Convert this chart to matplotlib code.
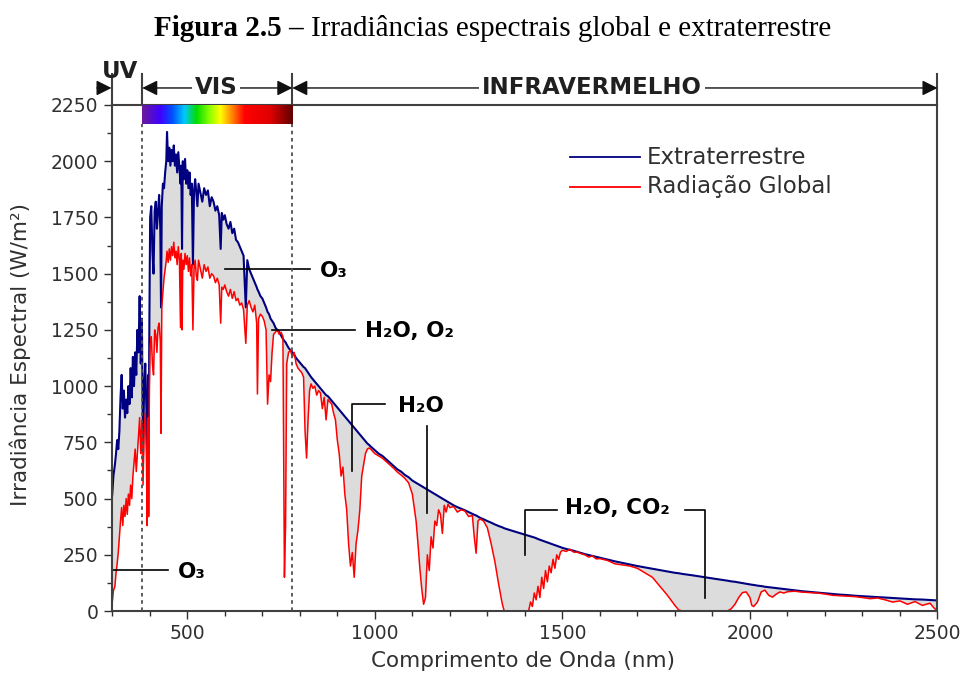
import numpy as np
import matplotlib
matplotlib.use('Agg')
import matplotlib.pyplot as plt
from matplotlib.colors import LinearSegmentedColormap
from matplotlib.ticker import MultipleLocator
from matplotlib.transforms import blended_transform_factory

plt.rcParams['font.family'] = ['DejaVu Sans']

# Spectral data: wavelength (nm), extraterrestrial and global irradiance
wavelength = [
    297, 300, 303, 307, 310, 313, 316, 319, 322, 325, 328, 331, 334, 337, 340, 343,
    346, 349, 352, 355, 358, 361, 364, 367, 370, 373, 376, 379, 382, 385, 388, 391,
    393, 396, 397, 399, 401, 404, 407, 410, 413, 416, 419, 422, 425, 428, 430, 432,
    435, 438, 441, 444, 446, 449, 452, 455, 458, 461, 464, 467, 470, 473, 476, 479,
    482, 484, 486, 488, 491, 494, 497, 500, 503, 506, 509, 512, 515, 518, 521, 524,
    527, 530, 535, 540, 545, 550, 555, 560, 565, 570, 575, 580, 585, 589, 592, 596,
    600, 605, 610, 615, 620, 625, 630, 635, 640, 645, 650, 656, 660, 665, 670, 675,
    680, 685, 687, 690, 695, 700, 705, 710, 714, 718, 722, 726, 730, 735, 740, 745,
    750, 755, 759, 762, 765, 770, 775, 780, 785, 790, 795, 800, 805, 810, 814, 818,
    822, 826, 830, 835, 840, 845, 850, 855, 860, 865, 870, 875, 880, 885, 890, 895,
    900, 905, 910, 915, 920, 925, 930, 935, 940, 945, 950, 955, 960, 965, 970, 975,
    980, 985, 990, 1000, 1010, 1020, 1030, 1040, 1050, 1060, 1070, 1080, 1090, 1100,
    1105, 1110, 1115, 1120, 1125, 1130, 1135, 1140, 1145, 1150, 1155, 1160, 1165,
    1170, 1175, 1180, 1185, 1190, 1195, 1200, 1210, 1220, 1230, 1240, 1250, 1260,
    1265, 1270, 1275, 1280, 1290, 1300, 1310, 1320, 1330, 1340, 1345, 1360, 1380,
    1400, 1410, 1415, 1420, 1425, 1430, 1435, 1440, 1445, 1450, 1455, 1460, 1465,
    1470, 1475, 1480, 1485, 1490, 1495, 1500, 1510, 1520, 1530, 1540, 1550, 1560,
    1570, 1580, 1590, 1600, 1620, 1640, 1660, 1680, 1700, 1720, 1740, 1760, 1780,
    1800, 1810, 1820, 1850, 1880, 1900, 1920, 1940, 1950, 1960, 1970, 1980, 1990,
    2000, 2005, 2010, 2020, 2030, 2040, 2050, 2060, 2070, 2080, 2090, 2100, 2120,
    2140, 2160, 2180, 2200, 2220, 2240, 2260, 2280, 2300, 2320, 2340, 2360, 2380,
    2400, 2420, 2440, 2460, 2480, 2490, 2500]

extraterrestre = [
    470, 520, 600, 650, 700, 760, 720, 800, 950, 1050, 900, 980, 860, 940, 880, 1000,
    920, 1080, 950, 1130, 1000, 1150, 1050, 1250, 1150, 1400, 1100, 1300, 700, 1000, 1100, 900,
    650, 1050, 700, 1300, 1750, 1800, 1600, 1500, 1780, 1820, 1700, 1780, 1850, 1700, 1350, 1800,
    1900, 1880, 1950, 2000, 2130, 2000, 2060, 1980, 2050, 2000, 2070, 1980, 2030, 1950, 2040, 1970,
    1900, 1980, 1610, 2000, 1920, 2010, 1900, 1960, 1880, 1950, 1850, 1900, 1540, 1870, 1920, 1860,
    1800, 1900, 1860, 1820, 1880, 1850, 1870, 1800, 1840, 1820, 1780, 1800, 1760, 1610, 1770, 1740,
    1760, 1720, 1700, 1730, 1680, 1700, 1650, 1640, 1620, 1600, 1580, 1350, 1560, 1520, 1500, 1480,
    1460, 1440, 1430, 1420, 1400, 1390, 1370, 1350, 1330, 1320, 1300, 1290, 1280, 1260, 1250, 1240,
    1225, 1210, 1200, 1195, 1185, 1170, 1160, 1150, 1140, 1125, 1115, 1105, 1095, 1085, 1080, 1070,
    1060, 1050, 1040, 1030, 1020, 1010, 1000, 990, 980, 970, 960, 955, 945, 935, 925, 915,
    905, 895, 885, 875, 865, 855, 845, 835, 825, 815, 805, 795, 785, 775, 765, 755,
    745, 738, 730, 715, 700, 690, 675, 660, 645, 630, 620, 605, 595, 580,
    575, 570, 565, 560, 555, 550, 545, 540, 535, 530, 525, 520, 515,
    510, 505, 500, 495, 490, 485, 480, 470, 462, 455, 448, 440, 432,
    428, 425, 420, 415, 408, 400, 393, 385, 378, 372, 368, 360, 350,
    340, 335, 332, 330, 327, 324, 320, 317, 314, 311, 308, 305, 302,
    299, 296, 293, 290, 287, 284, 281, 276, 272, 268, 263, 258, 253,
    249, 245, 241, 237, 229, 221, 214, 207, 200, 194, 188, 182, 176,
    170, 168, 165, 158, 150, 145, 140, 135, 132, 130, 127, 124, 121,
    118, 117, 116, 113, 111, 108, 106, 104, 102, 100, 98, 96, 92,
    88, 85, 82, 79, 76, 73, 71, 68, 66, 64, 62, 60, 58,
    56, 54, 52, 51, 49, 48, 47]

radiacao_global = [
    0, 40, 90, 110, 170, 210, 260, 330, 400, 460, 380, 470, 420, 500, 430, 520,
    470, 560, 500, 600, 660, 720, 620, 700, 780, 860, 700, 840, 560, 800, 880, 700,
    380, 860, 420, 1000, 1180, 1220, 1100, 1050, 1250, 1230, 1150, 1260, 1280, 1200, 790, 1350,
    1420, 1480, 1520, 1560, 1600, 1550, 1610, 1560, 1620, 1580, 1640, 1570, 1600, 1540, 1620, 1560,
    1260, 1590, 1250, 1560, 1520, 1590, 1540, 1580, 1510, 1570, 1490, 1540, 1250, 1520, 1560, 1490,
    1470, 1560, 1520, 1480, 1540, 1510, 1530, 1480, 1500, 1490, 1460, 1480, 1450, 1280, 1440, 1430,
    1450, 1420, 1400, 1430, 1390, 1420, 1380, 1390, 1360, 1370, 1340, 1190, 1360, 1380, 1350, 1330,
    1360, 1280, 965, 1300, 1320, 1310, 1290, 1250, 920, 1050, 1020, 1150, 1230, 1240, 1250, 1230,
    1240, 1220, 150, 380, 1100, 1150, 1160, 1130, 1150, 1100, 1080, 1070, 1060, 1040, 800, 680,
    850, 980, 1010, 990, 1000, 960, 980, 970, 900, 950, 850, 940, 930, 920, 880, 850,
    760, 700, 600, 640, 520, 450, 300, 200, 260, 150, 300, 360, 450, 600, 650, 700,
    720, 725, 718, 700, 690, 680, 665, 650, 635, 618, 605, 590, 570, 520,
    460, 400, 300, 190, 100, 30, 60, 250, 180, 330, 280, 400, 380,
    450, 430, 345, 470, 440, 475, 460, 465, 440, 450, 445, 420, 425,
    330, 257, 400, 410, 400, 370, 300, 220, 120, 30, 0, 0, 0,
    0, 0, 40, 20, 80, 50, 110, 60, 150, 100, 180, 130, 200,
    170, 230, 190, 250, 230, 262, 270, 265, 275, 262, 262, 255, 250,
    240, 245, 232, 233, 225, 210, 205, 200, 190, 170, 150, 110, 70,
    25, 5, 0, 0, 0, 0, 0, 0, 10, 30, 60, 82, 85,
    60, 25, 20, 40, 85, 93, 70, 62, 75, 85, 80, 86, 88,
    84, 82, 80, 76, 70, 68, 66, 64, 60, 55, 58, 50, 40,
    45, 30, 42, 25, 35, 15, 0]

# Spectral bands shown across the top
uv_edge = 380
vis_edge = 780
band_names = ['UV', 'VIS', 'INFRAVERMELHO']

blue = '#000080'
red = '#ff0000'
dark = '#303030'

fig = plt.figure(figsize=(9.63, 6.79), dpi=100)
ax = fig.add_axes([0.1158, 0.1001, 0.8577, 0.7453])

ax.fill_between(wavelength, radiacao_global, extraterrestre, color='#dcdcdc', lw=0, zorder=1)
ax.plot(wavelength, extraterrestre, color=blue, lw=1.5, zorder=2)
ax.plot(wavelength, radiacao_global, color=red, lw=1.1, zorder=2)

# visible colour strip
spec_cmap = LinearSegmentedColormap.from_list('vis', [
    (0.0, '#6a1b9a'), (0.12, '#4000ff'), (0.2, '#0050ff'), (0.28, '#00c8ff'),
    (0.36, '#00dd00'), (0.45, '#90ff00'), (0.52, '#ffff00'), (0.6, '#ff8000'),
    (0.68, '#ff0000'), (0.85, '#e00000'), (1.0, '#600000')])
ax.imshow(np.linspace(0, 1, 256)[None, :], extent=[uv_edge, vis_edge, 2165, 2250],
          aspect='auto', cmap=spec_cmap, zorder=3)
ax.vlines([uv_edge, vis_edge], 0, 2165, colors='#505050', linestyles=(0, (2, 2)), lw=1.3, zorder=3)

ax.set_xlim(298, 2500)
ax.set_ylim(0, 2250)
ax.xaxis.set_major_locator(MultipleLocator(500))
ax.xaxis.set_minor_locator(MultipleLocator(100))
ax.yaxis.set_major_locator(MultipleLocator(250))
ax.yaxis.set_minor_locator(MultipleLocator(125))
ax.tick_params(which='both', direction='out', colors=dark, labelsize=13.5, width=1)
ax.tick_params(which='major', length=6)
ax.tick_params(which='minor', length=3.5)
for s in ax.spines.values():
    s.set_color('#404040')
    s.set_linewidth(1.5)

ax.set_xlabel('Comprimento de Onda (nm)', fontsize=15.5, color=dark)
ax.set_ylabel('Irradiância Espectral (W/m²)', fontsize=15.5, color=dark)
ax.xaxis.set_label_coords(0.4985, -0.078)
ax.yaxis.set_label_coords(-0.097, 0.506)

# legend drawn by hand
ax.plot([0.555, 0.640], [0.897, 0.897], color=blue, lw=1.3, transform=ax.transAxes)
ax.plot([0.555, 0.640], [0.838, 0.838], color=red, lw=1.3, transform=ax.transAxes)
ax.text(0.6485, 0.897, 'Extraterrestre', transform=ax.transAxes, va='center', fontsize=16.5, color=dark)
ax.text(0.6485, 0.838, 'Radiação Global', transform=ax.transAxes, va='center', fontsize=16.5, color=dark)

# absorption labels
lab = dict(fontsize=15.5, fontweight='bold', color='black', va='center')
ln = dict(color='black', lw=1.2)
ax.plot([301, 448], [182, 182], **ln)
ax.text(475, 175, 'O₃', **lab)
ax.plot([600, 827], [1519, 1519], **ln)
ax.text(853, 1510, 'O₃', **lab)
ax.plot([725, 947], [1249, 1249], **ln)
ax.text(973, 1245, 'H₂O, O₂', **lab)
ax.plot([939, 939, 1027], [624, 921, 921], **ln)
ax.text(1061, 912, 'H₂O', **lab)
ax.plot([1139, 1139], [824, 438], **ln)
ax.plot([1400, 1400, 1485], [248, 447, 447], **ln)
ax.text(1507, 460, 'H₂O, CO₂', **lab)
ax.plot([1827, 1880, 1880], [447, 447, 58], **ln)

# band arrows above the plot
trans = blended_transform_factory(ax.transData, ax.transAxes)
yarr = 1.0336
for xv in [298, uv_edge, vis_edge, 2500]:
    ax.plot([xv, xv], [1.0, 1.062], color='#404040', lw=1.5, transform=trans, clip_on=False)
arrow = dict(arrowstyle='-|>', color='#101010', lw=1, mutation_scale=23, shrinkA=0, shrinkB=0)
ax.annotate('', xy=(298, yarr), xytext=(259, yarr), xycoords=trans, textcoords=trans, arrowprops=arrow)
ax.annotate('', xy=(uv_edge, yarr), xytext=(576, yarr), xycoords=trans, textcoords=trans, arrowprops=arrow)
ax.annotate('', xy=(vis_edge, yarr), xytext=(576, yarr), xycoords=trans, textcoords=trans, arrowprops=arrow)
ax.annotate('', xy=(vis_edge, yarr), xytext=(1579, yarr), xycoords=trans, textcoords=trans, arrowprops=arrow)
ax.annotate('', xy=(2500, yarr), xytext=(1579, yarr), xycoords=trans, textcoords=trans, arrowprops=arrow)
band = dict(fontsize=16.5, fontweight='bold', color='#202020', ha='center', va='center', transform=trans)
ax.text(320, 1.066, band_names[0], **band)
ax.text(576, yarr, band_names[1], bbox=dict(facecolor='white', edgecolor='none', pad=2), **band)
ax.text(1579, yarr, band_names[2], bbox=dict(facecolor='white', edgecolor='none', pad=2), **band)

# caption
fig.text(304 / 963, 1 - 28 / 679, 'Figura 2.5 –', family='Liberation Serif', fontweight='bold',
         fontsize=21, ha='right', va='center')
fig.text(311 / 963, 1 - 28 / 679, 'Irradiâncias espectrais global e extraterrestre',
         family='Liberation Serif', fontsize=21, ha='left', va='center')

fig.savefig('out.png', dpi=100)
